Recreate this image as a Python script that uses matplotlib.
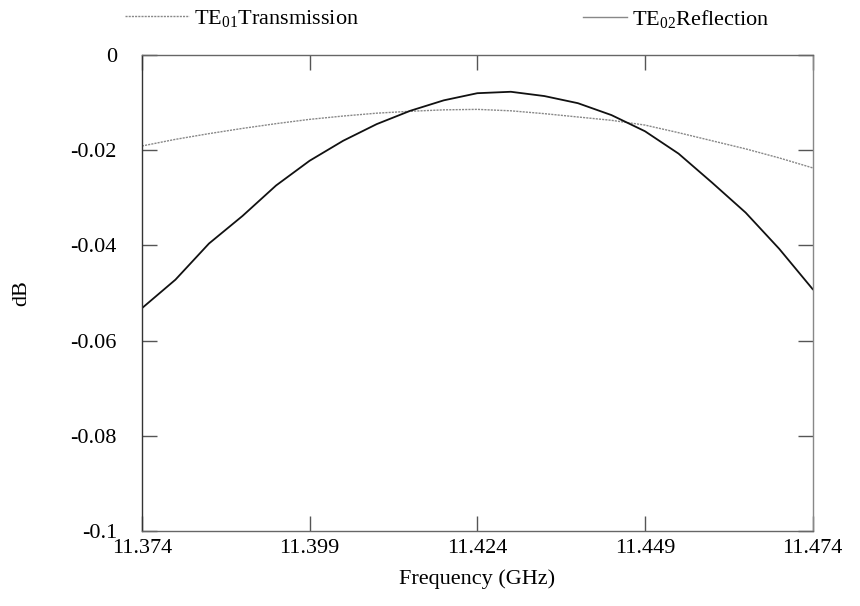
import matplotlib
matplotlib.use("Agg")
import matplotlib.pyplot as plt
from matplotlib.ticker import FixedLocator, FixedFormatter

freq = [11.374, 11.379, 11.384, 11.389, 11.394, 11.399, 11.404, 11.409, 11.414,
        11.419, 11.424, 11.429, 11.434, 11.439, 11.444, 11.449, 11.454, 11.459,
        11.464, 11.469, 11.474]
te01_transmission = [-0.0191, -0.0177, -0.0165, -0.0154, -0.0144, -0.0135, -0.0128,
                     -0.0122, -0.0118, -0.0115, -0.0114, -0.0117, -0.0123, -0.0130,
                     -0.0137, -0.0147, -0.0163, -0.0180, -0.0197, -0.0216, -0.0237]
te02_reflection = [-0.0532, -0.0472, -0.0396, -0.0338, -0.0274, -0.0222, -0.0180,
                   -0.0145, -0.0117, -0.0095, -0.0080, -0.0077, -0.0086, -0.0101,
                   -0.0126, -0.0160, -0.0207, -0.0268, -0.0331, -0.0407, -0.0492]

xticks = [11.374, 11.399, 11.424, 11.449, 11.474]
xticklabels = ["11.374", "11.399", "11.424", "11.449", "11.474"]
yticks = [0, -0.02, -0.04, -0.06, -0.08, -0.1]
yticklabels = ["0", "-0.02", "-0.04", "-0.06", "-0.08", "-0.1"]

plt.rcParams['font.family'] = ['Liberation Serif', 'DejaVu Serif']
plt.rcParams['mathtext.fontset'] = 'custom'
plt.rcParams['mathtext.rm'] = 'Liberation Serif'
plt.rcParams['mathtext.it'] = 'Liberation Serif'

fig = plt.figure(figsize=(8.6, 6.06), dpi=100)
ax = fig.add_axes([0.165, 0.124, 0.780, 0.785])

l1, = ax.plot(freq, te01_transmission, color='#888888', lw=1.0, ls=(0, (1.5, 0.8)))
l2, = ax.plot(freq, te02_reflection, color='#111111', lw=1.3)

ax.set_xlim(11.374, 11.474)
ax.set_ylim(-0.1, 0)
ax.xaxis.set_major_locator(FixedLocator(xticks))
ax.xaxis.set_major_formatter(FixedFormatter(xticklabels))
ax.yaxis.set_major_locator(FixedLocator(yticks))
ax.yaxis.set_major_formatter(FixedFormatter(yticklabels))
ax.tick_params(axis='both', direction='in', length=11, width=1, colors='#555555',
               labelcolor='black', labelsize=16, top=True, right=True)
ax.tick_params(axis='y', pad=18)
ax.tick_params(axis='x', pad=6)

for side, sp in ax.spines.items():
    sp.set_color('#333333')
    sp.set_linewidth(1.0)
ax.spines['right'].set_color('#888888')
ax.spines['right'].set_linestyle((0, (1, 1)))
ax.spines['top'].set_color('#666666')
ax.spines['bottom'].set_color('#666666')

ax.set_xlabel('Frequency (GHz)', fontsize=16, labelpad=8)
ax.set_ylabel('dB', fontsize=16)
ax.yaxis.set_label_coords(-0.165, 0.5)

# legend entries placed at the top of the figure
W, H = 860.0, 606.0
leg1 = fig.legend([l1], [r'TE$_{01}$Transmission'], loc='upper left',
                  bbox_to_anchor=(125 / W, 1 - 8 / H), frameon=False, fontsize=16,
                  handlelength=2.9, handletextpad=0.2, borderpad=0, borderaxespad=0)
leg2 = fig.legend([l2], [r'TE$_{02}$Reflection'], loc='upper left',
                  bbox_to_anchor=(583 / W, 1 - 8 / H), frameon=False, fontsize=16,
                  handlelength=2.0, handletextpad=0.2, borderpad=0, borderaxespad=0)
leg2.legend_handles[0].set_color('#888888')
leg2.legend_handles[0].set_linewidth(1.0)

fig.savefig('out.png', dpi=100)
